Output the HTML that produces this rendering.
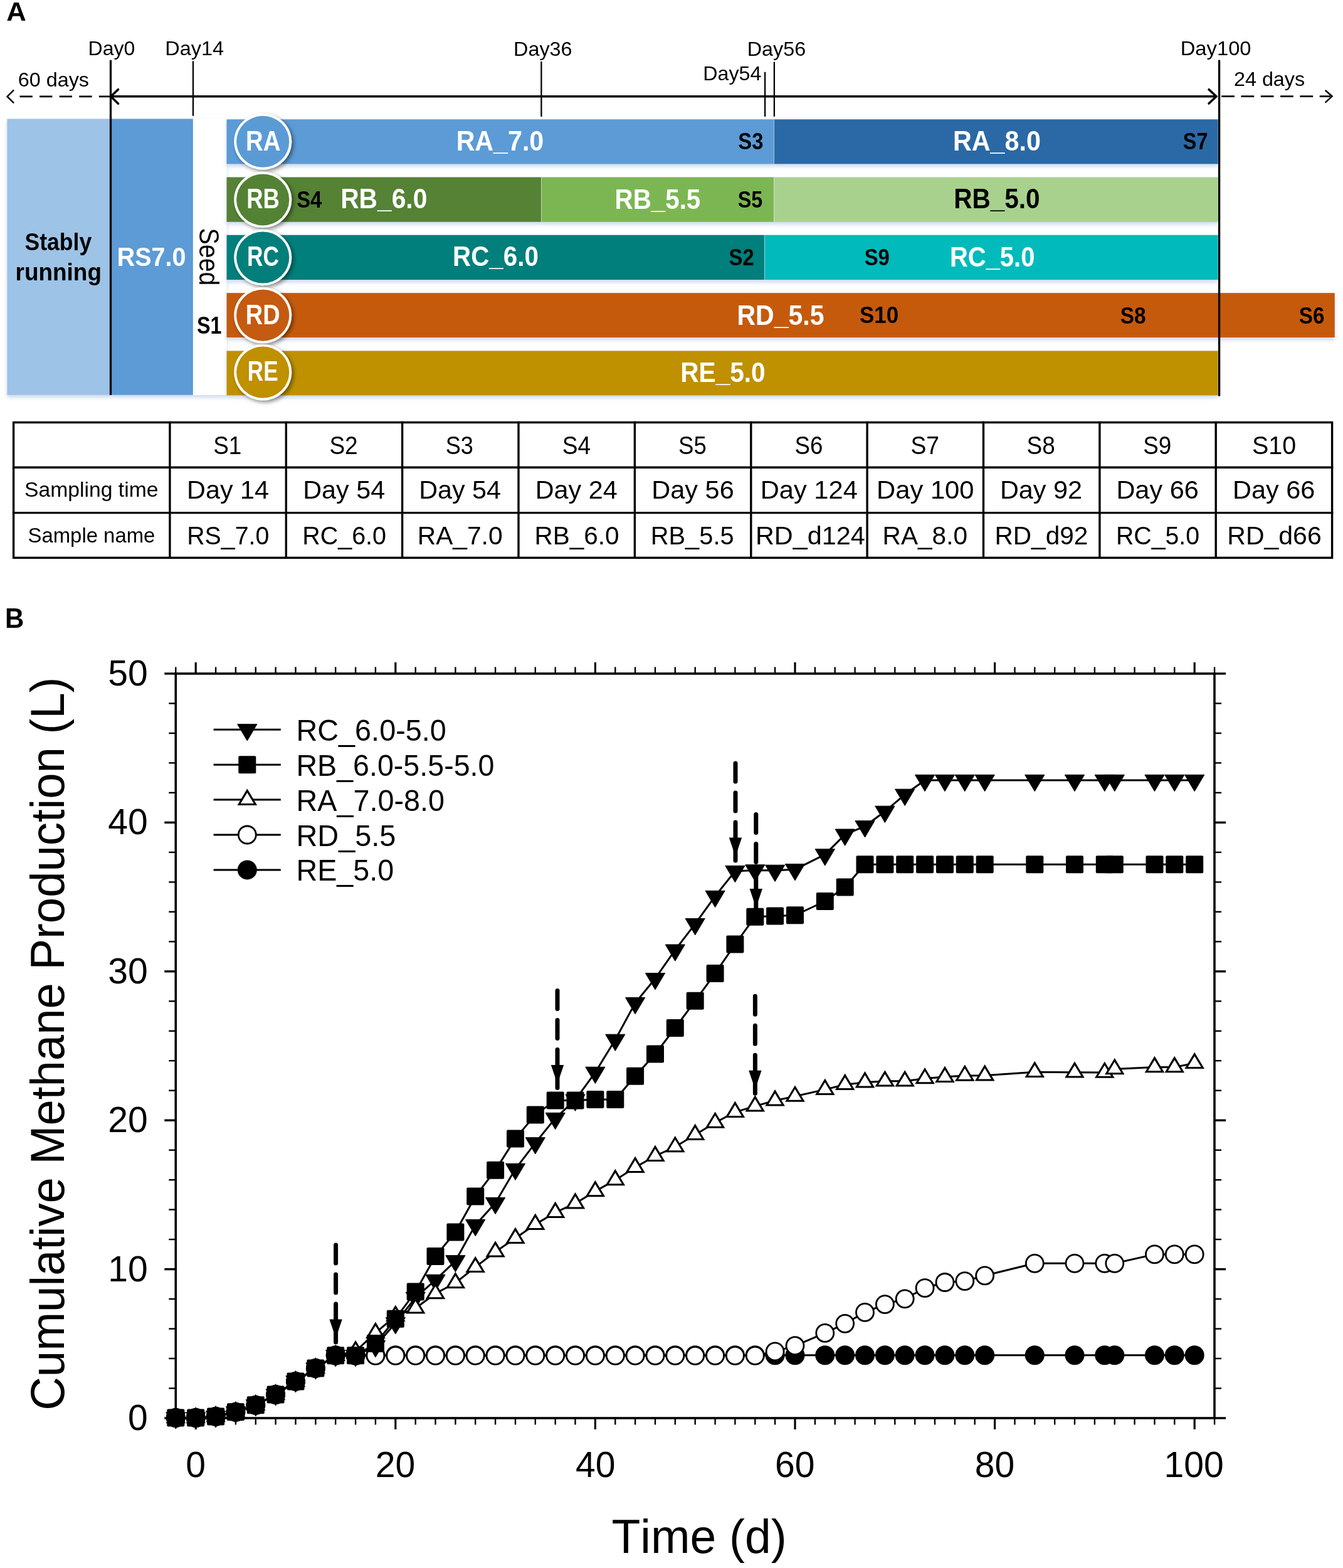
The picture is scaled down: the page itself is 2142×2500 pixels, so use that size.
<!DOCTYPE html>
<html><head><meta charset="utf-8"><title>Figure</title>
<style>
html,body{margin:0;padding:0;background:#fff;width:2142px;height:2500px;overflow:hidden;}
svg{display:block;}
text{font-family:"Liberation Sans",sans-serif;font-kerning:none;}
</style></head><body>
<svg width="2142" height="2500" viewBox="0 0 2142 2500">
<rect width="2142" height="2500" fill="#fff"/>
<defs>
<filter id="sh" x="-5%" y="-5%" width="110%" height="120%">
<feDropShadow dx="0" dy="4" stdDeviation="3.2" flood-color="#7f9fd0" flood-opacity="0.4"/>
</filter>
<filter id="csh" x="-30%" y="-30%" width="160%" height="160%">
<feDropShadow dx="3" dy="3" stdDeviation="3" flood-color="#000" flood-opacity="0.45"/>
</filter>
</defs>
<g filter="url(#sh)"><rect x="11.4" y="189.5" width="165.1" height="440.2" fill="#9DC3E6"/><rect x="176.5" y="189.5" width="131.4" height="440.2" fill="#5B9BD5"/><rect x="307.9" y="189.5" width="53.6" height="440.2" fill="#FFFFFF"/></g><g filter="url(#sh)"><rect x="361.5" y="190.3" width="873.0" height="71.1" fill="#5B9BD5"/><rect x="1234.5" y="190.3" width="708.2" height="71.1" fill="#2B69A6"/><rect x="361.5" y="282.5" width="501.9" height="71.3" fill="#548235"/><rect x="863.4" y="282.5" width="371.1" height="71.3" fill="#7CB653"/><rect x="1234.5" y="282.5" width="708.2" height="71.3" fill="#A9D18E"/><rect x="361.5" y="374.7" width="858.1" height="71.3" fill="#037F7B"/><rect x="1219.6" y="374.7" width="723.1" height="71.3" fill="#02BABC"/><rect x="361.5" y="467.1" width="1767.3" height="70.9" fill="#C55A11"/><rect x="361.5" y="559.4" width="1581.2" height="71.0" fill="#BF9000"/></g><line x1="1234.5" y1="190.3" x2="1234.5" y2="261.4" stroke="#ffffff" stroke-opacity="0.45" stroke-width="1"/><line x1="863.4" y1="282.5" x2="863.4" y2="353.8" stroke="#ffffff" stroke-opacity="0.45" stroke-width="1"/><line x1="1234.5" y1="282.5" x2="1234.5" y2="353.8" stroke="#ffffff" stroke-opacity="0.45" stroke-width="1"/><line x1="1219.6" y1="374.7" x2="1219.6" y2="446.0" stroke="#ffffff" stroke-opacity="0.45" stroke-width="1"/><g stroke="#000" fill="none"><line x1="176.5" y1="95.8" x2="176.5" y2="629.7" stroke-width="3.3"/><line x1="1944.6" y1="96.9" x2="1944.6" y2="630.2" stroke-width="3.3" stroke-linecap="round"/><line x1="308" y1="97.4" x2="308" y2="184.8" stroke-width="2.3"/><line x1="863.4" y1="98" x2="863.4" y2="186" stroke-width="2.3"/><line x1="1220.1" y1="114.8" x2="1220.1" y2="185.9" stroke-width="2.3"/><line x1="1234.9" y1="98.6" x2="1234.9" y2="185.9" stroke-width="2.3"/><line x1="177" y1="153.8" x2="1940" y2="153.8" stroke-width="3.5"/><polyline points="188.6,142.6 176.6,153.8 188.6,165.2" stroke-width="3.5" stroke-linecap="round" stroke-linejoin="miter"/><polyline points="1928.0,142.6 1940.0,153.8 1928.0,165.0" stroke-width="3.5" stroke-linecap="round" stroke-linejoin="miter"/><line x1="31.5" y1="153.9" x2="175" y2="153.9" stroke-width="2.6" stroke-dasharray="20.3 11.3"/><polyline points="21.4,144.2 11.6,153.9 21.4,163.6" stroke-width="2.5" stroke-linecap="round"/><line x1="1948.2" y1="153.6" x2="2122" y2="153.6" stroke-width="2.6" stroke-dasharray="20.7 10.6"/><polyline points="2114.4,144.5 2124.6,153.6 2114.4,162.9" stroke-width="2.5" stroke-linecap="round"/></g><ellipse cx="419.2" cy="225.8" rx="46.0" ry="44.7" fill="#fff" filter="url(#csh)"/><ellipse cx="419.2" cy="225.8" rx="42.1" ry="41.0" fill="#5B9BD5"/><ellipse cx="419.2" cy="318.4" rx="46.0" ry="44.7" fill="#fff" filter="url(#csh)"/><ellipse cx="419.2" cy="318.4" rx="42.1" ry="41.0" fill="#548235"/><ellipse cx="419.2" cy="410.5" rx="46.0" ry="44.7" fill="#fff" filter="url(#csh)"/><ellipse cx="419.2" cy="410.5" rx="42.1" ry="41.0" fill="#037F7B"/><ellipse cx="419.2" cy="502.7" rx="46.0" ry="44.7" fill="#fff" filter="url(#csh)"/><ellipse cx="419.2" cy="502.7" rx="42.1" ry="41.0" fill="#C55A11"/><ellipse cx="419.2" cy="593.6" rx="46.0" ry="44.7" fill="#fff" filter="url(#csh)"/><ellipse cx="419.2" cy="593.6" rx="42.1" ry="41.0" fill="#BF9000"/>
<text x="392.03" y="239.90" font-size="43.61" font-weight="bold" fill="#fff" textLength="55.48" lengthAdjust="spacingAndGlyphs">RA</text><text x="393.26" y="332.40" font-size="43.61" font-weight="bold" fill="#fff" textLength="52.70" lengthAdjust="spacingAndGlyphs">RB</text><text x="394.04" y="424.30" font-size="43.61" font-weight="bold" fill="#fff" textLength="51.03" lengthAdjust="spacingAndGlyphs">RC</text><text x="391.76" y="517.30" font-size="43.61" font-weight="bold" fill="#fff" textLength="54.83" lengthAdjust="spacingAndGlyphs">RD</text><text x="394.85" y="607.30" font-size="43.61" font-weight="bold" fill="#fff" textLength="48.72" lengthAdjust="spacingAndGlyphs">RE</text><text x="39.58" y="398.50" font-size="39.24" font-weight="bold" fill="#000" textLength="106.61" lengthAdjust="spacingAndGlyphs">Stably</text><text x="24.57" y="447.20" font-size="39.24" font-weight="bold" fill="#000" textLength="137.40" lengthAdjust="spacingAndGlyphs">running</text><text x="186.66" y="424.20" font-size="43.31" font-weight="bold" fill="#fff" textLength="109.76" lengthAdjust="spacingAndGlyphs">RS7.0</text><text x="363.62" y="0.00" font-size="44.77" fill="#000" textLength="91.71" lengthAdjust="spacingAndGlyphs" transform="translate(317.9,0) rotate(90)">Seed</text><text x="314.07" y="532.20" font-size="38.52" font-weight="bold" fill="#000" textLength="39.43" lengthAdjust="spacingAndGlyphs">S1</text><text x="727.64" y="239.90" font-size="43.90" font-weight="bold" fill="#fff" textLength="139.64" lengthAdjust="spacingAndGlyphs">RA_7.0</text><text x="1177.25" y="238.00" font-size="37.79" font-weight="bold" fill="#000" textLength="40.13" lengthAdjust="spacingAndGlyphs">S3</text><text x="1519.94" y="240.20" font-size="43.90" font-weight="bold" fill="#fff" textLength="139.95" lengthAdjust="spacingAndGlyphs">RA_8.0</text><text x="1886.87" y="238.30" font-size="37.79" font-weight="bold" fill="#000" textLength="39.66" lengthAdjust="spacingAndGlyphs">S7</text><text x="473.16" y="330.60" font-size="37.79" font-weight="bold" fill="#000" textLength="40.02" lengthAdjust="spacingAndGlyphs">S4</text><text x="543.17" y="332.00" font-size="43.90" font-weight="bold" fill="#fff" textLength="138.20" lengthAdjust="spacingAndGlyphs">RB_6.0</text><text x="980.50" y="332.50" font-size="43.90" font-weight="bold" fill="#fff" textLength="136.82" lengthAdjust="spacingAndGlyphs">RB_5.5</text><text x="1176.67" y="330.60" font-size="37.79" font-weight="bold" fill="#000" textLength="39.64" lengthAdjust="spacingAndGlyphs">S5</text><text x="1521.19" y="332.40" font-size="43.90" font-weight="bold" fill="#000" textLength="137.48" lengthAdjust="spacingAndGlyphs">RB_5.0</text><text x="722.10" y="424.40" font-size="43.90" font-weight="bold" fill="#fff" textLength="136.75" lengthAdjust="spacingAndGlyphs">RC_6.0</text><text x="1162.56" y="423.00" font-size="37.79" font-weight="bold" fill="#000" textLength="40.05" lengthAdjust="spacingAndGlyphs">S2</text><text x="1378.65" y="423.00" font-size="37.79" font-weight="bold" fill="#000" textLength="40.16" lengthAdjust="spacingAndGlyphs">S9</text><text x="1514.93" y="424.70" font-size="43.90" font-weight="bold" fill="#fff" textLength="135.51" lengthAdjust="spacingAndGlyphs">RC_5.0</text><text x="1175.46" y="517.90" font-size="43.90" font-weight="bold" fill="#fff" textLength="139.09" lengthAdjust="spacingAndGlyphs">RD_5.5</text><text x="1370.99" y="515.00" font-size="37.79" font-weight="bold" fill="#000" textLength="62.14" lengthAdjust="spacingAndGlyphs">S10</text><text x="1786.64" y="515.60" font-size="37.79" font-weight="bold" fill="#000" textLength="40.89" lengthAdjust="spacingAndGlyphs">S8</text><text x="2071.84" y="516.40" font-size="37.79" font-weight="bold" fill="#000" textLength="40.66" lengthAdjust="spacingAndGlyphs">S6</text><text x="1085.28" y="609.40" font-size="43.90" font-weight="bold" fill="#fff" textLength="135.38" lengthAdjust="spacingAndGlyphs">RE_5.0</text>
<text x="10.21" y="32.90" font-size="43.17" font-weight="bold" fill="#000" textLength="31.54" lengthAdjust="spacingAndGlyphs">A</text><text x="140.47" y="88.30" font-size="31.83" fill="#000" textLength="74.88" lengthAdjust="spacingAndGlyphs">Day0</text><text x="263.24" y="88.30" font-size="31.83" fill="#000" textLength="93.81" lengthAdjust="spacingAndGlyphs">Day14</text><text x="819.04" y="89.20" font-size="31.83" fill="#000" textLength="93.58" lengthAdjust="spacingAndGlyphs">Day36</text><text x="1121.26" y="128.20" font-size="31.83" fill="#000" textLength="93.09" lengthAdjust="spacingAndGlyphs">Day54</text><text x="1191.75" y="89.00" font-size="31.83" fill="#000" textLength="93.47" lengthAdjust="spacingAndGlyphs">Day56</text><text x="1882.71" y="88.10" font-size="31.83" fill="#000" textLength="112.87" lengthAdjust="spacingAndGlyphs">Day100</text><text x="28.76" y="137.90" font-size="31.83" fill="#000" textLength="113.21" lengthAdjust="spacingAndGlyphs">60 days</text><text x="1967.97" y="136.60" font-size="31.83" fill="#000" textLength="113.19" lengthAdjust="spacingAndGlyphs">24 days</text>
<g stroke="#000" stroke-width="3.4" fill="none" stroke-linecap="square"><rect x="21.6" y="673.5" width="2103.0" height="215.8"/><line x1="21.6" y1="745.3" x2="2124.6" y2="745.3"/><line x1="21.6" y1="817.6" x2="2124.6" y2="817.6"/><line x1="270.9" y1="673.5" x2="270.9" y2="889.3"/><line x1="456.3" y1="673.5" x2="456.3" y2="889.3"/><line x1="641.6" y1="673.5" x2="641.6" y2="889.3"/><line x1="827.0" y1="673.5" x2="827.0" y2="889.3"/><line x1="1012.4" y1="673.5" x2="1012.4" y2="889.3"/><line x1="1197.8" y1="673.5" x2="1197.8" y2="889.3"/><line x1="1383.1" y1="673.5" x2="1383.1" y2="889.3"/><line x1="1568.5" y1="673.5" x2="1568.5" y2="889.3"/><line x1="1753.9" y1="673.5" x2="1753.9" y2="889.3"/><line x1="1939.2" y1="673.5" x2="1939.2" y2="889.3"/></g><text x="39.07" y="791.80" font-size="33.29" fill="#000" textLength="213.43" lengthAdjust="spacingAndGlyphs">Sampling time</text><text x="44.51" y="864.50" font-size="33.29" fill="#000" textLength="202.85" lengthAdjust="spacingAndGlyphs">Sample name</text><text x="340.22" y="723.60" font-size="41.43" fill="#000" textLength="45.18" lengthAdjust="spacingAndGlyphs">S1</text><text x="525.42" y="723.60" font-size="41.43" fill="#000" textLength="45.24" lengthAdjust="spacingAndGlyphs">S2</text><text x="710.66" y="723.60" font-size="41.43" fill="#000" textLength="44.23" lengthAdjust="spacingAndGlyphs">S3</text><text x="896.82" y="723.60" font-size="41.43" fill="#000" textLength="45.37" lengthAdjust="spacingAndGlyphs">S4</text><text x="1082.04" y="723.60" font-size="41.43" fill="#000" textLength="44.80" lengthAdjust="spacingAndGlyphs">S5</text><text x="1267.53" y="723.60" font-size="41.43" fill="#000" textLength="44.88" lengthAdjust="spacingAndGlyphs">S6</text><text x="1452.41" y="723.60" font-size="41.43" fill="#000" textLength="45.57" lengthAdjust="spacingAndGlyphs">S7</text><text x="1637.62" y="723.60" font-size="41.43" fill="#000" textLength="45.29" lengthAdjust="spacingAndGlyphs">S8</text><text x="1823.13" y="723.60" font-size="41.43" fill="#000" textLength="45.01" lengthAdjust="spacingAndGlyphs">S9</text><text x="1997.01" y="723.60" font-size="41.43" fill="#000" textLength="70.13" lengthAdjust="spacingAndGlyphs">S10</text><text x="298.11" y="795.20" font-size="41.28" fill="#000" textLength="130.80" lengthAdjust="spacingAndGlyphs">Day 14</text><text x="483.31" y="795.20" font-size="41.28" fill="#000" textLength="130.80" lengthAdjust="spacingAndGlyphs">Day 54</text><text x="668.21" y="795.20" font-size="41.28" fill="#000" textLength="130.80" lengthAdjust="spacingAndGlyphs">Day 54</text><text x="853.81" y="795.20" font-size="41.28" fill="#000" textLength="130.80" lengthAdjust="spacingAndGlyphs">Day 24</text><text x="1039.30" y="795.20" font-size="41.28" fill="#000" textLength="131.43" lengthAdjust="spacingAndGlyphs">Day 56</text><text x="1212.79" y="795.20" font-size="41.28" fill="#000" textLength="155.03" lengthAdjust="spacingAndGlyphs">Day 124</text><text x="1398.08" y="795.20" font-size="41.28" fill="#000" textLength="155.45" lengthAdjust="spacingAndGlyphs">Day 100</text><text x="1594.91" y="795.20" font-size="41.28" fill="#000" textLength="131.07" lengthAdjust="spacingAndGlyphs">Day 92</text><text x="1780.40" y="795.20" font-size="41.28" fill="#000" textLength="131.43" lengthAdjust="spacingAndGlyphs">Day 66</text><text x="1966.10" y="795.20" font-size="41.28" fill="#000" textLength="131.32" lengthAdjust="spacingAndGlyphs">Day 66</text><text x="298.28" y="867.60" font-size="41.28" fill="#000" textLength="130.95" lengthAdjust="spacingAndGlyphs">RS_7.0</text><text x="482.26" y="867.60" font-size="41.28" fill="#000" textLength="133.78" lengthAdjust="spacingAndGlyphs">RC_6.0</text><text x="665.76" y="867.60" font-size="41.28" fill="#000" textLength="135.83" lengthAdjust="spacingAndGlyphs">RA_7.0</text><text x="852.58" y="867.60" font-size="41.28" fill="#000" textLength="134.90" lengthAdjust="spacingAndGlyphs">RB_6.0</text><text x="1037.84" y="867.60" font-size="41.28" fill="#000" textLength="132.74" lengthAdjust="spacingAndGlyphs">RB_5.5</text><text x="1204.90" y="867.60" font-size="41.28" fill="#000" textLength="174.91" lengthAdjust="spacingAndGlyphs">RD_d124</text><text x="1407.57" y="867.60" font-size="41.28" fill="#000" textLength="135.52" lengthAdjust="spacingAndGlyphs">RA_8.0</text><text x="1586.47" y="867.60" font-size="41.28" fill="#000" textLength="148.87" lengthAdjust="spacingAndGlyphs">RD_d92</text><text x="1779.98" y="867.60" font-size="41.28" fill="#000" textLength="133.16" lengthAdjust="spacingAndGlyphs">RC_5.0</text><text x="1957.34" y="867.60" font-size="41.28" fill="#000" textLength="150.36" lengthAdjust="spacingAndGlyphs">RD_d66</text>
<text x="8.00" y="1001.20" font-size="43.90" font-weight="bold" fill="#000" textLength="30.20" lengthAdjust="spacingAndGlyphs">B</text><g stroke="#000" fill="none"><rect x="280.3" y="1074.0" width="1656.7" height="1187.0" stroke-width="3.6"/><line x1="280.3" y1="1074.0" x2="280.3" y2="1063.5" stroke-width="2.4"/><line x1="280.3" y1="2261.0" x2="280.3" y2="2271.5" stroke-width="2.4"/><line x1="312.2" y1="1074.0" x2="312.2" y2="1056.0" stroke-width="3.2"/><line x1="312.2" y1="2261.0" x2="312.2" y2="2279.0" stroke-width="3.2"/><line x1="344.1" y1="1074.0" x2="344.1" y2="1063.5" stroke-width="2.4"/><line x1="344.1" y1="2261.0" x2="344.1" y2="2271.5" stroke-width="2.4"/><line x1="375.9" y1="1074.0" x2="375.9" y2="1063.5" stroke-width="2.4"/><line x1="375.9" y1="2261.0" x2="375.9" y2="2271.5" stroke-width="2.4"/><line x1="407.8" y1="1074.0" x2="407.8" y2="1063.5" stroke-width="2.4"/><line x1="407.8" y1="2261.0" x2="407.8" y2="2271.5" stroke-width="2.4"/><line x1="439.6" y1="1074.0" x2="439.6" y2="1063.5" stroke-width="2.4"/><line x1="439.6" y1="2261.0" x2="439.6" y2="2271.5" stroke-width="2.4"/><line x1="471.5" y1="1074.0" x2="471.5" y2="1063.5" stroke-width="2.4"/><line x1="471.5" y1="2261.0" x2="471.5" y2="2271.5" stroke-width="2.4"/><line x1="503.4" y1="1074.0" x2="503.4" y2="1063.5" stroke-width="2.4"/><line x1="503.4" y1="2261.0" x2="503.4" y2="2271.5" stroke-width="2.4"/><line x1="535.2" y1="1074.0" x2="535.2" y2="1063.5" stroke-width="2.4"/><line x1="535.2" y1="2261.0" x2="535.2" y2="2271.5" stroke-width="2.4"/><line x1="567.1" y1="1074.0" x2="567.1" y2="1063.5" stroke-width="2.4"/><line x1="567.1" y1="2261.0" x2="567.1" y2="2271.5" stroke-width="2.4"/><line x1="598.9" y1="1074.0" x2="598.9" y2="1063.5" stroke-width="2.4"/><line x1="598.9" y1="2261.0" x2="598.9" y2="2271.5" stroke-width="2.4"/><line x1="630.8" y1="1074.0" x2="630.8" y2="1056.0" stroke-width="3.2"/><line x1="630.8" y1="2261.0" x2="630.8" y2="2279.0" stroke-width="3.2"/><line x1="662.7" y1="1074.0" x2="662.7" y2="1063.5" stroke-width="2.4"/><line x1="662.7" y1="2261.0" x2="662.7" y2="2271.5" stroke-width="2.4"/><line x1="694.5" y1="1074.0" x2="694.5" y2="1063.5" stroke-width="2.4"/><line x1="694.5" y1="2261.0" x2="694.5" y2="2271.5" stroke-width="2.4"/><line x1="726.4" y1="1074.0" x2="726.4" y2="1063.5" stroke-width="2.4"/><line x1="726.4" y1="2261.0" x2="726.4" y2="2271.5" stroke-width="2.4"/><line x1="758.2" y1="1074.0" x2="758.2" y2="1063.5" stroke-width="2.4"/><line x1="758.2" y1="2261.0" x2="758.2" y2="2271.5" stroke-width="2.4"/><line x1="790.1" y1="1074.0" x2="790.1" y2="1063.5" stroke-width="2.4"/><line x1="790.1" y1="2261.0" x2="790.1" y2="2271.5" stroke-width="2.4"/><line x1="822.0" y1="1074.0" x2="822.0" y2="1063.5" stroke-width="2.4"/><line x1="822.0" y1="2261.0" x2="822.0" y2="2271.5" stroke-width="2.4"/><line x1="853.8" y1="1074.0" x2="853.8" y2="1063.5" stroke-width="2.4"/><line x1="853.8" y1="2261.0" x2="853.8" y2="2271.5" stroke-width="2.4"/><line x1="885.7" y1="1074.0" x2="885.7" y2="1063.5" stroke-width="2.4"/><line x1="885.7" y1="2261.0" x2="885.7" y2="2271.5" stroke-width="2.4"/><line x1="917.5" y1="1074.0" x2="917.5" y2="1063.5" stroke-width="2.4"/><line x1="917.5" y1="2261.0" x2="917.5" y2="2271.5" stroke-width="2.4"/><line x1="949.4" y1="1074.0" x2="949.4" y2="1056.0" stroke-width="3.2"/><line x1="949.4" y1="2261.0" x2="949.4" y2="2279.0" stroke-width="3.2"/><line x1="981.3" y1="1074.0" x2="981.3" y2="1063.5" stroke-width="2.4"/><line x1="981.3" y1="2261.0" x2="981.3" y2="2271.5" stroke-width="2.4"/><line x1="1013.1" y1="1074.0" x2="1013.1" y2="1063.5" stroke-width="2.4"/><line x1="1013.1" y1="2261.0" x2="1013.1" y2="2271.5" stroke-width="2.4"/><line x1="1045.0" y1="1074.0" x2="1045.0" y2="1063.5" stroke-width="2.4"/><line x1="1045.0" y1="2261.0" x2="1045.0" y2="2271.5" stroke-width="2.4"/><line x1="1076.8" y1="1074.0" x2="1076.8" y2="1063.5" stroke-width="2.4"/><line x1="1076.8" y1="2261.0" x2="1076.8" y2="2271.5" stroke-width="2.4"/><line x1="1108.7" y1="1074.0" x2="1108.7" y2="1063.5" stroke-width="2.4"/><line x1="1108.7" y1="2261.0" x2="1108.7" y2="2271.5" stroke-width="2.4"/><line x1="1140.6" y1="1074.0" x2="1140.6" y2="1063.5" stroke-width="2.4"/><line x1="1140.6" y1="2261.0" x2="1140.6" y2="2271.5" stroke-width="2.4"/><line x1="1172.4" y1="1074.0" x2="1172.4" y2="1063.5" stroke-width="2.4"/><line x1="1172.4" y1="2261.0" x2="1172.4" y2="2271.5" stroke-width="2.4"/><line x1="1204.3" y1="1074.0" x2="1204.3" y2="1063.5" stroke-width="2.4"/><line x1="1204.3" y1="2261.0" x2="1204.3" y2="2271.5" stroke-width="2.4"/><line x1="1236.1" y1="1074.0" x2="1236.1" y2="1063.5" stroke-width="2.4"/><line x1="1236.1" y1="2261.0" x2="1236.1" y2="2271.5" stroke-width="2.4"/><line x1="1268.0" y1="1074.0" x2="1268.0" y2="1056.0" stroke-width="3.2"/><line x1="1268.0" y1="2261.0" x2="1268.0" y2="2279.0" stroke-width="3.2"/><line x1="1299.9" y1="1074.0" x2="1299.9" y2="1063.5" stroke-width="2.4"/><line x1="1299.9" y1="2261.0" x2="1299.9" y2="2271.5" stroke-width="2.4"/><line x1="1331.7" y1="1074.0" x2="1331.7" y2="1063.5" stroke-width="2.4"/><line x1="1331.7" y1="2261.0" x2="1331.7" y2="2271.5" stroke-width="2.4"/><line x1="1363.6" y1="1074.0" x2="1363.6" y2="1063.5" stroke-width="2.4"/><line x1="1363.6" y1="2261.0" x2="1363.6" y2="2271.5" stroke-width="2.4"/><line x1="1395.4" y1="1074.0" x2="1395.4" y2="1063.5" stroke-width="2.4"/><line x1="1395.4" y1="2261.0" x2="1395.4" y2="2271.5" stroke-width="2.4"/><line x1="1427.3" y1="1074.0" x2="1427.3" y2="1063.5" stroke-width="2.4"/><line x1="1427.3" y1="2261.0" x2="1427.3" y2="2271.5" stroke-width="2.4"/><line x1="1459.2" y1="1074.0" x2="1459.2" y2="1063.5" stroke-width="2.4"/><line x1="1459.2" y1="2261.0" x2="1459.2" y2="2271.5" stroke-width="2.4"/><line x1="1491.0" y1="1074.0" x2="1491.0" y2="1063.5" stroke-width="2.4"/><line x1="1491.0" y1="2261.0" x2="1491.0" y2="2271.5" stroke-width="2.4"/><line x1="1522.9" y1="1074.0" x2="1522.9" y2="1063.5" stroke-width="2.4"/><line x1="1522.9" y1="2261.0" x2="1522.9" y2="2271.5" stroke-width="2.4"/><line x1="1554.7" y1="1074.0" x2="1554.7" y2="1063.5" stroke-width="2.4"/><line x1="1554.7" y1="2261.0" x2="1554.7" y2="2271.5" stroke-width="2.4"/><line x1="1586.6" y1="1074.0" x2="1586.6" y2="1056.0" stroke-width="3.2"/><line x1="1586.6" y1="2261.0" x2="1586.6" y2="2279.0" stroke-width="3.2"/><line x1="1618.5" y1="1074.0" x2="1618.5" y2="1063.5" stroke-width="2.4"/><line x1="1618.5" y1="2261.0" x2="1618.5" y2="2271.5" stroke-width="2.4"/><line x1="1650.3" y1="1074.0" x2="1650.3" y2="1063.5" stroke-width="2.4"/><line x1="1650.3" y1="2261.0" x2="1650.3" y2="2271.5" stroke-width="2.4"/><line x1="1682.2" y1="1074.0" x2="1682.2" y2="1063.5" stroke-width="2.4"/><line x1="1682.2" y1="2261.0" x2="1682.2" y2="2271.5" stroke-width="2.4"/><line x1="1714.0" y1="1074.0" x2="1714.0" y2="1063.5" stroke-width="2.4"/><line x1="1714.0" y1="2261.0" x2="1714.0" y2="2271.5" stroke-width="2.4"/><line x1="1745.9" y1="1074.0" x2="1745.9" y2="1063.5" stroke-width="2.4"/><line x1="1745.9" y1="2261.0" x2="1745.9" y2="2271.5" stroke-width="2.4"/><line x1="1777.8" y1="1074.0" x2="1777.8" y2="1063.5" stroke-width="2.4"/><line x1="1777.8" y1="2261.0" x2="1777.8" y2="2271.5" stroke-width="2.4"/><line x1="1809.6" y1="1074.0" x2="1809.6" y2="1063.5" stroke-width="2.4"/><line x1="1809.6" y1="2261.0" x2="1809.6" y2="2271.5" stroke-width="2.4"/><line x1="1841.5" y1="1074.0" x2="1841.5" y2="1063.5" stroke-width="2.4"/><line x1="1841.5" y1="2261.0" x2="1841.5" y2="2271.5" stroke-width="2.4"/><line x1="1873.3" y1="1074.0" x2="1873.3" y2="1063.5" stroke-width="2.4"/><line x1="1873.3" y1="2261.0" x2="1873.3" y2="2271.5" stroke-width="2.4"/><line x1="1905.2" y1="1074.0" x2="1905.2" y2="1056.0" stroke-width="3.2"/><line x1="1905.2" y1="2261.0" x2="1905.2" y2="2279.0" stroke-width="3.2"/><line x1="1937.1" y1="1074.0" x2="1937.1" y2="1063.5" stroke-width="2.4"/><line x1="1937.1" y1="2261.0" x2="1937.1" y2="2271.5" stroke-width="2.4"/><line x1="280.3" y1="2261.0" x2="262.3" y2="2261.0" stroke-width="3.4"/><line x1="1937.1" y1="2261.0" x2="1955.1" y2="2261.0" stroke-width="3.4"/><line x1="280.3" y1="2213.5" x2="269.3" y2="2213.5" stroke-width="2.4"/><line x1="1937.1" y1="2213.5" x2="1948.1" y2="2213.5" stroke-width="2.4"/><line x1="280.3" y1="2166.0" x2="269.3" y2="2166.0" stroke-width="2.4"/><line x1="1937.1" y1="2166.0" x2="1948.1" y2="2166.0" stroke-width="2.4"/><line x1="280.3" y1="2118.6" x2="269.3" y2="2118.6" stroke-width="2.4"/><line x1="1937.1" y1="2118.6" x2="1948.1" y2="2118.6" stroke-width="2.4"/><line x1="280.3" y1="2071.1" x2="269.3" y2="2071.1" stroke-width="2.4"/><line x1="1937.1" y1="2071.1" x2="1948.1" y2="2071.1" stroke-width="2.4"/><line x1="280.3" y1="2023.6" x2="262.3" y2="2023.6" stroke-width="3.4"/><line x1="1937.1" y1="2023.6" x2="1955.1" y2="2023.6" stroke-width="3.4"/><line x1="280.3" y1="1976.1" x2="269.3" y2="1976.1" stroke-width="2.4"/><line x1="1937.1" y1="1976.1" x2="1948.1" y2="1976.1" stroke-width="2.4"/><line x1="280.3" y1="1928.6" x2="269.3" y2="1928.6" stroke-width="2.4"/><line x1="1937.1" y1="1928.6" x2="1948.1" y2="1928.6" stroke-width="2.4"/><line x1="280.3" y1="1881.2" x2="269.3" y2="1881.2" stroke-width="2.4"/><line x1="1937.1" y1="1881.2" x2="1948.1" y2="1881.2" stroke-width="2.4"/><line x1="280.3" y1="1833.7" x2="269.3" y2="1833.7" stroke-width="2.4"/><line x1="1937.1" y1="1833.7" x2="1948.1" y2="1833.7" stroke-width="2.4"/><line x1="280.3" y1="1786.2" x2="262.3" y2="1786.2" stroke-width="3.4"/><line x1="1937.1" y1="1786.2" x2="1955.1" y2="1786.2" stroke-width="3.4"/><line x1="280.3" y1="1738.7" x2="269.3" y2="1738.7" stroke-width="2.4"/><line x1="1937.1" y1="1738.7" x2="1948.1" y2="1738.7" stroke-width="2.4"/><line x1="280.3" y1="1691.2" x2="269.3" y2="1691.2" stroke-width="2.4"/><line x1="1937.1" y1="1691.2" x2="1948.1" y2="1691.2" stroke-width="2.4"/><line x1="280.3" y1="1643.8" x2="269.3" y2="1643.8" stroke-width="2.4"/><line x1="1937.1" y1="1643.8" x2="1948.1" y2="1643.8" stroke-width="2.4"/><line x1="280.3" y1="1596.3" x2="269.3" y2="1596.3" stroke-width="2.4"/><line x1="1937.1" y1="1596.3" x2="1948.1" y2="1596.3" stroke-width="2.4"/><line x1="280.3" y1="1548.8" x2="262.3" y2="1548.8" stroke-width="3.4"/><line x1="1937.1" y1="1548.8" x2="1955.1" y2="1548.8" stroke-width="3.4"/><line x1="280.3" y1="1501.3" x2="269.3" y2="1501.3" stroke-width="2.4"/><line x1="1937.1" y1="1501.3" x2="1948.1" y2="1501.3" stroke-width="2.4"/><line x1="280.3" y1="1453.8" x2="269.3" y2="1453.8" stroke-width="2.4"/><line x1="1937.1" y1="1453.8" x2="1948.1" y2="1453.8" stroke-width="2.4"/><line x1="280.3" y1="1406.4" x2="269.3" y2="1406.4" stroke-width="2.4"/><line x1="1937.1" y1="1406.4" x2="1948.1" y2="1406.4" stroke-width="2.4"/><line x1="280.3" y1="1358.9" x2="269.3" y2="1358.9" stroke-width="2.4"/><line x1="1937.1" y1="1358.9" x2="1948.1" y2="1358.9" stroke-width="2.4"/><line x1="280.3" y1="1311.4" x2="262.3" y2="1311.4" stroke-width="3.4"/><line x1="1937.1" y1="1311.4" x2="1955.1" y2="1311.4" stroke-width="3.4"/><line x1="280.3" y1="1263.9" x2="269.3" y2="1263.9" stroke-width="2.4"/><line x1="1937.1" y1="1263.9" x2="1948.1" y2="1263.9" stroke-width="2.4"/><line x1="280.3" y1="1216.4" x2="269.3" y2="1216.4" stroke-width="2.4"/><line x1="1937.1" y1="1216.4" x2="1948.1" y2="1216.4" stroke-width="2.4"/><line x1="280.3" y1="1169.0" x2="269.3" y2="1169.0" stroke-width="2.4"/><line x1="1937.1" y1="1169.0" x2="1948.1" y2="1169.0" stroke-width="2.4"/><line x1="280.3" y1="1121.5" x2="269.3" y2="1121.5" stroke-width="2.4"/><line x1="1937.1" y1="1121.5" x2="1948.1" y2="1121.5" stroke-width="2.4"/><line x1="280.3" y1="1074.0" x2="262.3" y2="1074.0" stroke-width="3.4"/><line x1="1937.1" y1="1074.0" x2="1955.1" y2="1074.0" stroke-width="3.4"/></g><text x="203.99" y="2280.00" font-size="57.06" fill="#000" >0</text><text x="172.26" y="2042.60" font-size="57.06" fill="#000" >10</text><text x="172.26" y="1805.20" font-size="57.06" fill="#000" >20</text><text x="172.26" y="1567.80" font-size="57.06" fill="#000" >30</text><text x="172.26" y="1330.40" font-size="57.06" fill="#000" >40</text><text x="172.26" y="1093.00" font-size="57.06" fill="#000" >50</text><text x="296.33" y="2354.80" font-size="57.06" fill="#000" >0</text><text x="598.74" y="2354.80" font-size="57.06" fill="#000" >20</text><text x="918.12" y="2354.80" font-size="57.06" fill="#000" >40</text><text x="1235.93" y="2354.80" font-size="57.06" fill="#000" >60</text><text x="1554.74" y="2354.80" font-size="57.06" fill="#000" >80</text><text x="1856.54" y="2354.80" font-size="57.06" fill="#000" >100</text><text x="-2248.87" y="0.00" font-size="76.45" fill="#000" textLength="1169.18" lengthAdjust="spacingAndGlyphs" transform="translate(102.3,0) rotate(-90)">Cumulative Methane Production (L)</text><text x="975.41" y="2475.70" font-size="76.02" fill="#000" textLength="279.44" lengthAdjust="spacingAndGlyphs">Time (d)</text><polyline points="280.3,2260.5 312.2,2260.5 344.1,2258.4 375.9,2251.3 407.8,2240.3 439.6,2223.5 471.5,2202.4 503.4,2181.5 535.2,2160.8 567.1,2160.8 598.9,2160.8 630.8,2160.8 662.7,2160.8 694.5,2160.8 726.4,2160.8 758.2,2160.8 790.1,2160.8 822.0,2160.8 853.8,2160.8 885.7,2160.8 917.5,2160.8 949.4,2160.8 981.3,2160.8 1013.1,2160.8 1045.0,2160.8 1076.8,2160.8 1108.7,2160.8 1140.6,2160.8 1172.4,2160.8 1204.3,2160.8 1236.1,2160.8 1268.0,2160.8 1315.8,2160.8 1347.7,2160.8 1379.5,2160.8 1411.4,2160.8 1443.2,2160.8 1475.1,2160.8 1507.0,2160.8 1538.8,2160.8 1570.7,2160.8 1650.3,2160.8 1714.0,2160.8 1761.8,2160.8 1777.8,2160.8 1841.5,2160.8 1873.3,2160.8 1905.2,2160.8" fill="none" stroke="#000" stroke-width="3" stroke-linejoin="round"/><g fill="#000" stroke="none"><circle cx="280.3" cy="2260.5" r="15.5"/><circle cx="312.2" cy="2260.5" r="15.5"/><circle cx="344.1" cy="2258.4" r="15.5"/><circle cx="375.9" cy="2251.3" r="15.5"/><circle cx="407.8" cy="2240.3" r="15.5"/><circle cx="439.6" cy="2223.5" r="15.5"/><circle cx="471.5" cy="2202.4" r="15.5"/><circle cx="503.4" cy="2181.5" r="15.5"/><circle cx="535.2" cy="2160.8" r="15.5"/><circle cx="567.1" cy="2160.8" r="15.5"/><circle cx="598.9" cy="2160.8" r="15.5"/><circle cx="630.8" cy="2160.8" r="15.5"/><circle cx="662.7" cy="2160.8" r="15.5"/><circle cx="694.5" cy="2160.8" r="15.5"/><circle cx="726.4" cy="2160.8" r="15.5"/><circle cx="758.2" cy="2160.8" r="15.5"/><circle cx="790.1" cy="2160.8" r="15.5"/><circle cx="822.0" cy="2160.8" r="15.5"/><circle cx="853.8" cy="2160.8" r="15.5"/><circle cx="885.7" cy="2160.8" r="15.5"/><circle cx="917.5" cy="2160.8" r="15.5"/><circle cx="949.4" cy="2160.8" r="15.5"/><circle cx="981.3" cy="2160.8" r="15.5"/><circle cx="1013.1" cy="2160.8" r="15.5"/><circle cx="1045.0" cy="2160.8" r="15.5"/><circle cx="1076.8" cy="2160.8" r="15.5"/><circle cx="1108.7" cy="2160.8" r="15.5"/><circle cx="1140.6" cy="2160.8" r="15.5"/><circle cx="1172.4" cy="2160.8" r="15.5"/><circle cx="1204.3" cy="2160.8" r="15.5"/><circle cx="1236.1" cy="2160.8" r="15.5"/><circle cx="1268.0" cy="2160.8" r="15.5"/><circle cx="1315.8" cy="2160.8" r="15.5"/><circle cx="1347.7" cy="2160.8" r="15.5"/><circle cx="1379.5" cy="2160.8" r="15.5"/><circle cx="1411.4" cy="2160.8" r="15.5"/><circle cx="1443.2" cy="2160.8" r="15.5"/><circle cx="1475.1" cy="2160.8" r="15.5"/><circle cx="1507.0" cy="2160.8" r="15.5"/><circle cx="1538.8" cy="2160.8" r="15.5"/><circle cx="1570.7" cy="2160.8" r="15.5"/><circle cx="1650.3" cy="2160.8" r="15.5"/><circle cx="1714.0" cy="2160.8" r="15.5"/><circle cx="1761.8" cy="2160.8" r="15.5"/><circle cx="1777.8" cy="2160.8" r="15.5"/><circle cx="1841.5" cy="2160.8" r="15.5"/><circle cx="1873.3" cy="2160.8" r="15.5"/><circle cx="1905.2" cy="2160.8" r="15.5"/></g><polyline points="280.3,2260.5 312.2,2260.5 344.1,2258.4 375.9,2251.3 407.8,2240.3 439.6,2223.5 471.5,2202.4 503.4,2181.5 535.2,2161.3 567.1,2161.3 598.9,2161.3 630.8,2161.3 662.7,2161.3 694.5,2161.3 726.4,2161.3 758.2,2161.3 790.1,2161.3 822.0,2161.3 853.8,2161.3 885.7,2161.3 917.5,2161.3 949.4,2161.3 981.3,2161.3 1013.1,2161.3 1045.0,2161.3 1076.8,2161.3 1108.7,2161.3 1140.6,2161.3 1172.4,2161.3 1204.3,2161.3 1236.1,2154.9 1268.0,2145.6 1315.8,2125.4 1347.7,2110.3 1379.5,2092.4 1411.4,2079.6 1443.2,2070.8 1475.1,2053.7 1507.0,2044.5 1538.8,2042.6 1570.7,2033.8 1650.3,2014.3 1714.0,2014.3 1761.8,2014.3 1777.8,2014.3 1841.5,1999.9 1873.3,1999.9 1905.2,1999.9" fill="none" stroke="#000" stroke-width="3" stroke-linejoin="round"/><g fill="#fff" stroke="#000" stroke-width="2.8"><circle cx="280.3" cy="2260.5" r="14.0"/><circle cx="312.2" cy="2260.5" r="14.0"/><circle cx="344.1" cy="2258.4" r="14.0"/><circle cx="375.9" cy="2251.3" r="14.0"/><circle cx="407.8" cy="2240.3" r="14.0"/><circle cx="439.6" cy="2223.5" r="14.0"/><circle cx="471.5" cy="2202.4" r="14.0"/><circle cx="503.4" cy="2181.5" r="14.0"/><circle cx="535.2" cy="2161.3" r="14.0"/><circle cx="567.1" cy="2161.3" r="14.0"/><circle cx="598.9" cy="2161.3" r="14.0"/><circle cx="630.8" cy="2161.3" r="14.0"/><circle cx="662.7" cy="2161.3" r="14.0"/><circle cx="694.5" cy="2161.3" r="14.0"/><circle cx="726.4" cy="2161.3" r="14.0"/><circle cx="758.2" cy="2161.3" r="14.0"/><circle cx="790.1" cy="2161.3" r="14.0"/><circle cx="822.0" cy="2161.3" r="14.0"/><circle cx="853.8" cy="2161.3" r="14.0"/><circle cx="885.7" cy="2161.3" r="14.0"/><circle cx="917.5" cy="2161.3" r="14.0"/><circle cx="949.4" cy="2161.3" r="14.0"/><circle cx="981.3" cy="2161.3" r="14.0"/><circle cx="1013.1" cy="2161.3" r="14.0"/><circle cx="1045.0" cy="2161.3" r="14.0"/><circle cx="1076.8" cy="2161.3" r="14.0"/><circle cx="1108.7" cy="2161.3" r="14.0"/><circle cx="1140.6" cy="2161.3" r="14.0"/><circle cx="1172.4" cy="2161.3" r="14.0"/><circle cx="1204.3" cy="2161.3" r="14.0"/><circle cx="1236.1" cy="2154.9" r="14.0"/><circle cx="1268.0" cy="2145.6" r="14.0"/><circle cx="1315.8" cy="2125.4" r="14.0"/><circle cx="1347.7" cy="2110.3" r="14.0"/><circle cx="1379.5" cy="2092.4" r="14.0"/><circle cx="1411.4" cy="2079.6" r="14.0"/><circle cx="1443.2" cy="2070.8" r="14.0"/><circle cx="1475.1" cy="2053.7" r="14.0"/><circle cx="1507.0" cy="2044.5" r="14.0"/><circle cx="1538.8" cy="2042.6" r="14.0"/><circle cx="1570.7" cy="2033.8" r="14.0"/><circle cx="1650.3" cy="2014.3" r="14.0"/><circle cx="1714.0" cy="2014.3" r="14.0"/><circle cx="1761.8" cy="2014.3" r="14.0"/><circle cx="1777.8" cy="2014.3" r="14.0"/><circle cx="1841.5" cy="1999.9" r="14.0"/><circle cx="1873.3" cy="1999.9" r="14.0"/><circle cx="1905.2" cy="1999.9" r="14.0"/></g><polyline points="280.3,2260.5 312.2,2260.5 344.1,2258.4 375.9,2251.3 407.8,2240.3 439.6,2223.5 471.5,2202.4 503.4,2181.5 535.2,2161.3 567.1,2161.3 598.9,2146.3 630.8,2109.3 662.7,2068.9 694.5,2040.9 726.4,2010.3 758.2,1953.1 790.1,1918.0 822.0,1863.8 853.8,1822.3 885.7,1782.9 917.5,1753.7 949.4,1709.8 981.3,1657.8 1013.1,1599.1 1045.0,1560.2 1076.8,1514.6 1108.7,1473.1 1140.6,1428.9 1172.4,1389.0 1204.3,1387.4 1236.1,1387.8 1268.0,1386.2 1315.8,1362.4 1347.7,1330.6 1379.5,1317.3 1411.4,1293.8 1443.2,1266.8 1475.1,1244.0 1507.0,1244.0 1538.8,1244.0 1570.7,1244.0 1650.3,1244.0 1714.0,1244.0 1761.8,1244.0 1777.8,1244.0 1841.5,1244.0 1873.3,1244.0 1905.2,1244.0" fill="none" stroke="#000" stroke-width="3" stroke-linejoin="round"/><g fill="#000" stroke="#000" stroke-width="1" stroke-linejoin="round"><path d="M264.7,2251.9H295.9L280.3,2278.2Z"/><path d="M296.6,2251.9H327.8L312.2,2278.2Z"/><path d="M328.5,2249.8H359.7L344.1,2276.1Z"/><path d="M360.3,2242.7H391.5L375.9,2269.0Z"/><path d="M392.2,2231.7H423.4L407.8,2258.0Z"/><path d="M424.0,2214.9H455.2L439.6,2241.2Z"/><path d="M455.9,2193.8H487.1L471.5,2220.1Z"/><path d="M487.8,2172.9H519.0L503.4,2199.2Z"/><path d="M519.6,2152.7H550.8L535.2,2179.0Z"/><path d="M551.5,2152.7H582.7L567.1,2179.0Z"/><path d="M583.3,2137.7H614.5L598.9,2164.0Z"/><path d="M615.2,2100.7H646.4L630.8,2127.0Z"/><path d="M647.1,2060.3H678.3L662.7,2086.6Z"/><path d="M678.9,2032.3H710.1L694.5,2058.6Z"/><path d="M710.8,2001.7H742.0L726.4,2028.0Z"/><path d="M742.6,1944.5H773.8L758.2,1970.8Z"/><path d="M774.5,1909.4H805.7L790.1,1935.7Z"/><path d="M806.4,1855.2H837.6L822.0,1881.5Z"/><path d="M838.2,1813.7H869.4L853.8,1840.0Z"/><path d="M870.1,1774.3H901.3L885.7,1800.6Z"/><path d="M901.9,1745.1H933.1L917.5,1771.4Z"/><path d="M933.8,1701.2H965.0L949.4,1727.5Z"/><path d="M965.7,1649.2H996.9L981.3,1675.5Z"/><path d="M997.5,1590.5H1028.7L1013.1,1616.8Z"/><path d="M1029.4,1551.6H1060.6L1045.0,1577.9Z"/><path d="M1061.2,1506.0H1092.4L1076.8,1532.3Z"/><path d="M1093.1,1464.5H1124.3L1108.7,1490.8Z"/><path d="M1125.0,1420.3H1156.2L1140.6,1446.6Z"/><path d="M1156.8,1380.4H1188.0L1172.4,1406.7Z"/><path d="M1188.7,1378.8H1219.9L1204.3,1405.1Z"/><path d="M1220.5,1379.2H1251.7L1236.1,1405.5Z"/><path d="M1252.4,1377.6H1283.6L1268.0,1403.9Z"/><path d="M1300.2,1353.8H1331.4L1315.8,1380.1Z"/><path d="M1332.1,1322.0H1363.2L1347.7,1348.3Z"/><path d="M1363.9,1308.7H1395.1L1379.5,1335.0Z"/><path d="M1395.8,1285.2H1427.0L1411.4,1311.5Z"/><path d="M1427.6,1258.2H1458.8L1443.2,1284.5Z"/><path d="M1459.5,1235.4H1490.7L1475.1,1261.7Z"/><path d="M1491.4,1235.4H1522.5L1507.0,1261.7Z"/><path d="M1523.2,1235.4H1554.4L1538.8,1261.7Z"/><path d="M1555.1,1235.4H1586.3L1570.7,1261.7Z"/><path d="M1634.7,1235.4H1665.9L1650.3,1261.7Z"/><path d="M1698.4,1235.4H1729.6L1714.0,1261.7Z"/><path d="M1746.2,1235.4H1777.4L1761.8,1261.7Z"/><path d="M1762.2,1235.4H1793.4L1777.8,1261.7Z"/><path d="M1825.9,1235.4H1857.1L1841.5,1261.7Z"/><path d="M1857.7,1235.4H1888.9L1873.3,1261.7Z"/><path d="M1889.6,1235.4H1920.8L1905.2,1261.7Z"/></g><polyline points="280.3,2260.5 312.2,2260.5 344.1,2258.4 375.9,2251.3 407.8,2240.3 439.6,2223.5 471.5,2202.4 503.4,2181.5 535.2,2161.3 567.1,2154.4 598.9,2125.2 630.8,2098.1 662.7,2085.8 694.5,2062.5 726.4,2045.4 758.2,2020.3 790.1,1995.8 822.0,1974.2 853.8,1952.1 885.7,1933.2 917.5,1918.7 949.4,1899.4 981.3,1881.4 1013.1,1861.2 1045.0,1843.2 1076.8,1828.5 1108.7,1809.2 1140.6,1790.0 1172.4,1773.1 1204.3,1763.6 1236.1,1754.6 1268.0,1748.0 1315.8,1737.1 1347.7,1729.2 1379.5,1725.7 1411.4,1723.8 1443.2,1723.8 1475.1,1719.5 1507.0,1717.1 1538.8,1715.0 1570.7,1714.7 1650.3,1709.3 1714.0,1709.8 1761.8,1710.0 1777.8,1704.5 1841.5,1701.4 1873.3,1701.4 1905.2,1695.3" fill="none" stroke="#000" stroke-width="3" stroke-linejoin="round"/><g stroke="none"><path fill="#000" d="M280.3,2242.9L296.1,2269.3H264.5Z"/><path fill="#fff" d="M280.3,2249.1L290.7,2266.3H269.9Z"/><path fill="#000" d="M312.2,2242.9L328.0,2269.3H296.4Z"/><path fill="#fff" d="M312.2,2249.1L322.6,2266.3H301.8Z"/><path fill="#000" d="M344.1,2240.8L359.9,2267.2H328.3Z"/><path fill="#fff" d="M344.1,2247.0L354.5,2264.2H333.7Z"/><path fill="#000" d="M375.9,2233.7L391.7,2260.1H360.1Z"/><path fill="#fff" d="M375.9,2239.9L386.3,2257.1H365.5Z"/><path fill="#000" d="M407.8,2222.7L423.6,2249.1H392.0Z"/><path fill="#fff" d="M407.8,2228.9L418.2,2246.1H397.4Z"/><path fill="#000" d="M439.6,2205.9L455.4,2232.3H423.8Z"/><path fill="#fff" d="M439.6,2212.1L450.0,2229.3H429.2Z"/><path fill="#000" d="M471.5,2184.8L487.3,2211.2H455.7Z"/><path fill="#fff" d="M471.5,2191.0L481.9,2208.2H461.1Z"/><path fill="#000" d="M503.4,2163.9L519.2,2190.3H487.6Z"/><path fill="#fff" d="M503.4,2170.1L513.8,2187.3H493.0Z"/><path fill="#000" d="M535.2,2143.7L551.0,2170.1H519.4Z"/><path fill="#fff" d="M535.2,2149.9L545.6,2167.1H524.8Z"/><path fill="#000" d="M567.1,2136.8L582.9,2163.2H551.3Z"/><path fill="#fff" d="M567.1,2143.0L577.5,2160.2H556.7Z"/><path fill="#000" d="M598.9,2107.6L614.7,2134.0H583.1Z"/><path fill="#fff" d="M598.9,2113.8L609.3,2131.0H588.5Z"/><path fill="#000" d="M630.8,2080.5L646.6,2106.9H615.0Z"/><path fill="#fff" d="M630.8,2086.7L641.2,2103.9H620.4Z"/><path fill="#000" d="M662.7,2068.2L678.5,2094.6H646.9Z"/><path fill="#fff" d="M662.7,2074.4L673.1,2091.6H652.3Z"/><path fill="#000" d="M694.5,2044.9L710.3,2071.3H678.7Z"/><path fill="#fff" d="M694.5,2051.1L704.9,2068.3H684.1Z"/><path fill="#000" d="M726.4,2027.8L742.2,2054.2H710.6Z"/><path fill="#fff" d="M726.4,2034.0L736.8,2051.2H716.0Z"/><path fill="#000" d="M758.2,2002.7L774.0,2029.1H742.4Z"/><path fill="#fff" d="M758.2,2008.9L768.6,2026.1H747.8Z"/><path fill="#000" d="M790.1,1978.2L805.9,2004.6H774.3Z"/><path fill="#fff" d="M790.1,1984.4L800.5,2001.6H779.7Z"/><path fill="#000" d="M822.0,1956.6L837.8,1983.0H806.2Z"/><path fill="#fff" d="M822.0,1962.8L832.4,1980.0H811.6Z"/><path fill="#000" d="M853.8,1934.5L869.6,1960.9H838.0Z"/><path fill="#fff" d="M853.8,1940.7L864.2,1957.9H843.4Z"/><path fill="#000" d="M885.7,1915.6L901.5,1942.0H869.9Z"/><path fill="#fff" d="M885.7,1921.8L896.1,1939.0H875.3Z"/><path fill="#000" d="M917.5,1901.1L933.3,1927.5H901.7Z"/><path fill="#fff" d="M917.5,1907.3L927.9,1924.5H907.1Z"/><path fill="#000" d="M949.4,1881.8L965.2,1908.2H933.6Z"/><path fill="#fff" d="M949.4,1888.0L959.8,1905.2H939.0Z"/><path fill="#000" d="M981.3,1863.8L997.1,1890.2H965.5Z"/><path fill="#fff" d="M981.3,1870.0L991.7,1887.2H970.9Z"/><path fill="#000" d="M1013.1,1843.6L1028.9,1870.0H997.3Z"/><path fill="#fff" d="M1013.1,1849.8L1023.5,1867.0H1002.7Z"/><path fill="#000" d="M1045.0,1825.6L1060.8,1852.0H1029.2Z"/><path fill="#fff" d="M1045.0,1831.8L1055.4,1849.0H1034.6Z"/><path fill="#000" d="M1076.8,1810.9L1092.6,1837.3H1061.0Z"/><path fill="#fff" d="M1076.8,1817.1L1087.2,1834.3H1066.4Z"/><path fill="#000" d="M1108.7,1791.6L1124.5,1818.0H1092.9Z"/><path fill="#fff" d="M1108.7,1797.8L1119.1,1815.0H1098.3Z"/><path fill="#000" d="M1140.6,1772.4L1156.4,1798.8H1124.8Z"/><path fill="#fff" d="M1140.6,1778.6L1151.0,1795.8H1130.2Z"/><path fill="#000" d="M1172.4,1755.5L1188.2,1781.9H1156.6Z"/><path fill="#fff" d="M1172.4,1761.7L1182.8,1778.9H1162.0Z"/><path fill="#000" d="M1204.3,1746.0L1220.1,1772.4H1188.5Z"/><path fill="#fff" d="M1204.3,1752.2L1214.7,1769.4H1193.9Z"/><path fill="#000" d="M1236.1,1737.0L1251.9,1763.4H1220.3Z"/><path fill="#fff" d="M1236.1,1743.2L1246.5,1760.4H1225.7Z"/><path fill="#000" d="M1268.0,1730.4L1283.8,1756.8H1252.2Z"/><path fill="#fff" d="M1268.0,1736.6L1278.4,1753.8H1257.6Z"/><path fill="#000" d="M1315.8,1719.5L1331.6,1745.9H1300.0Z"/><path fill="#fff" d="M1315.8,1725.7L1326.2,1742.9H1305.4Z"/><path fill="#000" d="M1347.7,1711.6L1363.5,1738.0H1331.9Z"/><path fill="#fff" d="M1347.7,1717.8L1358.1,1735.0H1337.2Z"/><path fill="#000" d="M1379.5,1708.1L1395.3,1734.5H1363.7Z"/><path fill="#fff" d="M1379.5,1714.3L1389.9,1731.5H1369.1Z"/><path fill="#000" d="M1411.4,1706.2L1427.2,1732.6H1395.6Z"/><path fill="#fff" d="M1411.4,1712.4L1421.8,1729.6H1401.0Z"/><path fill="#000" d="M1443.2,1706.2L1459.0,1732.6H1427.4Z"/><path fill="#fff" d="M1443.2,1712.4L1453.6,1729.6H1432.8Z"/><path fill="#000" d="M1475.1,1701.9L1490.9,1728.3H1459.3Z"/><path fill="#fff" d="M1475.1,1708.1L1485.5,1725.3H1464.7Z"/><path fill="#000" d="M1507.0,1699.5L1522.8,1725.9H1491.2Z"/><path fill="#fff" d="M1507.0,1705.7L1517.4,1722.9H1496.5Z"/><path fill="#000" d="M1538.8,1697.4L1554.6,1723.8H1523.0Z"/><path fill="#fff" d="M1538.8,1703.6L1549.2,1720.8H1528.4Z"/><path fill="#000" d="M1570.7,1697.1L1586.5,1723.5H1554.9Z"/><path fill="#fff" d="M1570.7,1703.3L1581.1,1720.5H1560.3Z"/><path fill="#000" d="M1650.3,1691.7L1666.1,1718.1H1634.5Z"/><path fill="#fff" d="M1650.3,1697.9L1660.7,1715.1H1639.9Z"/><path fill="#000" d="M1714.0,1692.2L1729.8,1718.6H1698.2Z"/><path fill="#fff" d="M1714.0,1698.4L1724.4,1715.6H1703.6Z"/><path fill="#000" d="M1761.8,1692.4L1777.6,1718.8H1746.0Z"/><path fill="#fff" d="M1761.8,1698.6L1772.2,1715.8H1751.4Z"/><path fill="#000" d="M1777.8,1686.9L1793.6,1713.3H1762.0Z"/><path fill="#fff" d="M1777.8,1693.1L1788.2,1710.3H1767.4Z"/><path fill="#000" d="M1841.5,1683.8L1857.3,1710.2H1825.7Z"/><path fill="#fff" d="M1841.5,1690.0L1851.9,1707.2H1831.1Z"/><path fill="#000" d="M1873.3,1683.8L1889.1,1710.2H1857.5Z"/><path fill="#fff" d="M1873.3,1690.0L1883.7,1707.2H1862.9Z"/><path fill="#000" d="M1905.2,1677.7L1921.0,1704.1H1889.4Z"/><path fill="#fff" d="M1905.2,1683.9L1915.6,1701.1H1894.8Z"/></g><polyline points="280.3,2260.5 312.2,2260.5 344.1,2258.4 375.9,2251.3 407.8,2240.3 439.6,2223.5 471.5,2202.4 503.4,2181.5 535.2,2161.3 567.1,2161.3 598.9,2142.1 630.8,2102.7 662.7,2059.4 694.5,2002.9 726.4,1964.5 758.2,1907.5 790.1,1865.7 822.0,1815.4 853.8,1777.4 885.7,1754.6 917.5,1754.6 949.4,1753.0 981.3,1753.0 1013.1,1715.7 1045.0,1680.6 1076.8,1639.0 1108.7,1595.8 1140.6,1551.9 1172.4,1505.6 1204.3,1461.7 1236.1,1460.5 1268.0,1459.3 1315.8,1437.0 1347.7,1414.4 1379.5,1378.3 1411.4,1378.3 1443.2,1378.3 1475.1,1378.3 1507.0,1378.3 1538.8,1378.3 1570.7,1378.3 1650.3,1378.3 1714.0,1378.3 1761.8,1378.3 1777.8,1378.3 1841.5,1378.3 1873.3,1378.3 1905.2,1378.3" fill="none" stroke="#000" stroke-width="3" stroke-linejoin="round"/><g fill="#000" stroke="none"><rect x="266.3" y="2246.5" width="28" height="28" rx="2"/><rect x="298.2" y="2246.5" width="28" height="28" rx="2"/><rect x="330.1" y="2244.4" width="28" height="28" rx="2"/><rect x="361.9" y="2237.3" width="28" height="28" rx="2"/><rect x="393.8" y="2226.3" width="28" height="28" rx="2"/><rect x="425.6" y="2209.5" width="28" height="28" rx="2"/><rect x="457.5" y="2188.4" width="28" height="28" rx="2"/><rect x="489.4" y="2167.5" width="28" height="28" rx="2"/><rect x="521.2" y="2147.3" width="28" height="28" rx="2"/><rect x="553.1" y="2147.3" width="28" height="28" rx="2"/><rect x="584.9" y="2128.1" width="28" height="28" rx="2"/><rect x="616.8" y="2088.7" width="28" height="28" rx="2"/><rect x="648.7" y="2045.4" width="28" height="28" rx="2"/><rect x="680.5" y="1988.9" width="28" height="28" rx="2"/><rect x="712.4" y="1950.5" width="28" height="28" rx="2"/><rect x="744.2" y="1893.5" width="28" height="28" rx="2"/><rect x="776.1" y="1851.7" width="28" height="28" rx="2"/><rect x="808.0" y="1801.4" width="28" height="28" rx="2"/><rect x="839.8" y="1763.4" width="28" height="28" rx="2"/><rect x="871.7" y="1740.6" width="28" height="28" rx="2"/><rect x="903.5" y="1740.6" width="28" height="28" rx="2"/><rect x="935.4" y="1739.0" width="28" height="28" rx="2"/><rect x="967.3" y="1739.0" width="28" height="28" rx="2"/><rect x="999.1" y="1701.7" width="28" height="28" rx="2"/><rect x="1031.0" y="1666.6" width="28" height="28" rx="2"/><rect x="1062.8" y="1625.0" width="28" height="28" rx="2"/><rect x="1094.7" y="1581.8" width="28" height="28" rx="2"/><rect x="1126.6" y="1537.9" width="28" height="28" rx="2"/><rect x="1158.4" y="1491.6" width="28" height="28" rx="2"/><rect x="1190.3" y="1447.7" width="28" height="28" rx="2"/><rect x="1222.1" y="1446.5" width="28" height="28" rx="2"/><rect x="1254.0" y="1445.3" width="28" height="28" rx="2"/><rect x="1301.8" y="1423.0" width="28" height="28" rx="2"/><rect x="1333.7" y="1400.4" width="28" height="28" rx="2"/><rect x="1365.5" y="1364.3" width="28" height="28" rx="2"/><rect x="1397.4" y="1364.3" width="28" height="28" rx="2"/><rect x="1429.2" y="1364.3" width="28" height="28" rx="2"/><rect x="1461.1" y="1364.3" width="28" height="28" rx="2"/><rect x="1493.0" y="1364.3" width="28" height="28" rx="2"/><rect x="1524.8" y="1364.3" width="28" height="28" rx="2"/><rect x="1556.7" y="1364.3" width="28" height="28" rx="2"/><rect x="1636.3" y="1364.3" width="28" height="28" rx="2"/><rect x="1700.0" y="1364.3" width="28" height="28" rx="2"/><rect x="1747.8" y="1364.3" width="28" height="28" rx="2"/><rect x="1763.8" y="1364.3" width="28" height="28" rx="2"/><rect x="1827.5" y="1364.3" width="28" height="28" rx="2"/><rect x="1859.3" y="1364.3" width="28" height="28" rx="2"/><rect x="1891.2" y="1364.3" width="28" height="28" rx="2"/></g><g stroke="#000" stroke-width="7" stroke-linecap="round" fill="none"><line x1="535.6" y1="1985.0" x2="535.6" y2="2014.0"/><line x1="535.6" y1="2032.0" x2="535.6" y2="2061.0"/><line x1="535.6" y1="2079.0" x2="535.6" y2="2140.0"/></g><path d="M525.4,2103.5H545.8L535.6,2133.5Z" fill="#000"/><g stroke="#000" stroke-width="7" stroke-linecap="round" fill="none"><line x1="889.0" y1="1579.4" x2="889.0" y2="1608.4"/><line x1="889.0" y1="1626.4" x2="889.0" y2="1655.4"/><line x1="889.0" y1="1673.4" x2="889.0" y2="1734.4"/></g><path d="M878.8,1697.9H899.2L889.0,1727.9Z" fill="#000"/><g stroke="#000" stroke-width="7" stroke-linecap="round" fill="none"><line x1="1173.0" y1="1217.0" x2="1173.0" y2="1246.0"/><line x1="1173.0" y1="1264.0" x2="1173.0" y2="1293.0"/><line x1="1173.0" y1="1311.0" x2="1173.0" y2="1372.0"/></g><path d="M1162.8,1335.5H1183.2L1173.0,1365.5Z" fill="#000"/><g stroke="#000" stroke-width="7" stroke-linecap="round" fill="none"><line x1="1205.8" y1="1298.5" x2="1205.8" y2="1327.5"/><line x1="1205.8" y1="1345.5" x2="1205.8" y2="1374.5"/><line x1="1205.8" y1="1392.5" x2="1205.8" y2="1453.5"/></g><path d="M1195.6,1417.0H1216.0L1205.8,1447.0Z" fill="#000"/><g stroke="#000" stroke-width="7" stroke-linecap="round" fill="none"><line x1="1204.4" y1="1588.3" x2="1204.4" y2="1617.3"/><line x1="1204.4" y1="1635.3" x2="1204.4" y2="1664.3"/><line x1="1204.4" y1="1682.3" x2="1204.4" y2="1743.3"/></g><path d="M1194.2,1706.8H1214.6L1204.4,1736.8Z" fill="#000"/><line x1="340.6" y1="1163.3" x2="447.8" y2="1163.3" stroke="#000" stroke-width="3"/><g fill="#000" stroke="#000" stroke-width="1" stroke-linejoin="round"><path d="M378.7,1154.7H409.9L394.3,1181.0Z"/></g><text x="472.46" y="1180.80" font-size="47.97" fill="#000" textLength="239.37" lengthAdjust="spacingAndGlyphs">RC_6.0-5.0</text><line x1="340.6" y1="1219.2" x2="447.8" y2="1219.2" stroke="#000" stroke-width="3"/><g fill="#000" stroke="none"><rect x="380.3" y="1205.2" width="28" height="28" rx="2"/></g><text x="472.48" y="1236.70" font-size="47.97" fill="#000" textLength="315.94" lengthAdjust="spacingAndGlyphs">RB_6.0-5.5-5.0</text><line x1="340.6" y1="1275.1" x2="447.8" y2="1275.1" stroke="#000" stroke-width="3"/><g stroke="none"><path fill="#000" d="M394.3,1257.5L410.1,1283.9H378.5Z"/><path fill="#fff" d="M394.3,1263.7L404.7,1280.9H383.9Z"/></g><text x="472.47" y="1292.60" font-size="47.97" fill="#000" textLength="236.46" lengthAdjust="spacingAndGlyphs">RA_7.0-8.0</text><line x1="340.6" y1="1331.0" x2="447.8" y2="1331.0" stroke="#000" stroke-width="3"/><g fill="#fff" stroke="#000" stroke-width="2.8"><circle cx="394.3" cy="1331.0" r="14.0"/></g><text x="472.45" y="1348.50" font-size="47.97" fill="#000" textLength="159.02" lengthAdjust="spacingAndGlyphs">RD_5.5</text><line x1="340.6" y1="1386.9" x2="447.8" y2="1386.9" stroke="#000" stroke-width="3"/><g fill="#000" stroke="none"><circle cx="394.3" cy="1386.9" r="15.5"/></g><text x="472.47" y="1404.40" font-size="47.97" fill="#000" textLength="155.65" lengthAdjust="spacingAndGlyphs">RE_5.0</text>
</svg>
</body></html>
